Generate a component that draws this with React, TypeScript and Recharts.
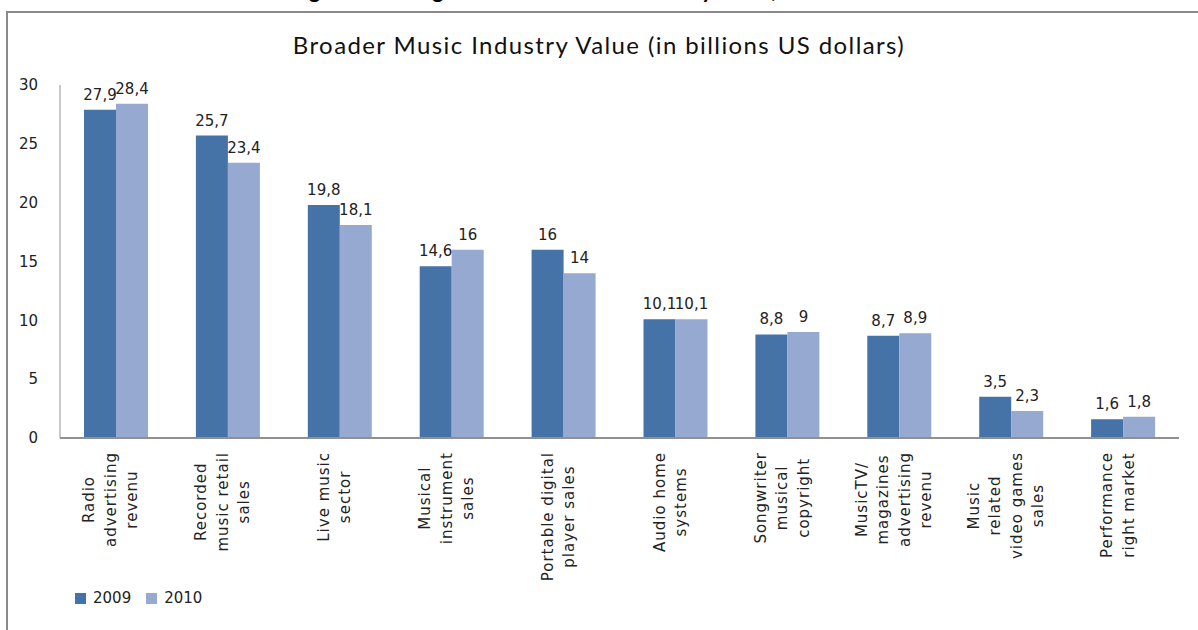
import React from "react";
import { BarChart, Bar, XAxis, YAxis, Legend, LabelList } from "recharts";

const categories = [
  "Radio advertising revenu",
  "Recorded music retail sales",
  "Live music sector",
  "Musical instrument sales",
  "Portable digital player sales",
  "Audio home systems",
  "Songwriter musical copyright",
  "MusicTV/ magazines advertising revenu",
  "Music related video games sales",
  "Performance right market",
];

// how each category label wraps under the axis
const categoryLines = [
  ["Radio", "advertising", "revenu"],
  ["Recorded", "music retail", "sales"],
  ["Live music", "sector"],
  ["Musical", "instrument", "sales"],
  ["Portable digital", "player sales"],
  ["Audio home", "systems"],
  ["Songwriter", "musical", "copyright"],
  ["MusicTV/", "magazines", "advertising", "revenu"],
  ["Music", "related", "video games", "sales"],
  ["Performance", "right market"],
];

const values2009 = [27.9, 25.7, 19.8, 14.6, 16, 10.1, 8.8, 8.7, 3.5, 1.6];
const values2010 = [28.4, 23.4, 18.1, 16, 14, 10.1, 9, 8.9, 2.3, 1.8];
const yTicks = [0, 5, 10, 15, 20, 25, 30];

const data = categories.map((name, i) => ({
  name,
  "2009": values2009[i],
  "2010": values2010[i],
}));

const C2009 = "#4572A7";
const C2010 = "#95A9D1";
const FONT = '"DejaVu Sans", Verdana, sans-serif';

let ctx: CanvasRenderingContext2D | null = null;
const measure = (s: string) => {
  if (!ctx) {
    ctx = document.createElement("canvas").getContext("2d");
  }
  if (!ctx) return s.length * 8;
  ctx.font = `15px ${FONT}`;
  return ctx.measureText(s).width + s.length * 1;
};

const CategoryTick = (props: any) => {
  const { x, y, index } = props;
  const lines = categoryLines[index] || [];
  const longest = Math.max(...lines.map(measure));
  const cy = y + longest / 2;
  const step = 21.5;
  return (
    <g>
      {lines.map((ln, i) => {
        const lx = x - ((lines.length - 1) / 2) * step + i * step;
        return (
          <text
            key={i}
            x={lx}
            y={cy}
            transform={`rotate(-90, ${lx}, ${cy})`}
            textAnchor="middle"
            fontFamily={FONT}
            fontSize={15}
            letterSpacing={1}
            fill="#222"
          >
            {ln}
          </text>
        );
      })}
    </g>
  );
};

const LegendContent = (props: any) => {
  const { payload } = props;
  return (
    <div style={{ display: "flex", fontFamily: FONT, fontSize: 15, color: "#222" }}>
      {(payload || []).map((p: any) => (
        <div key={p.value} style={{ display: "flex", alignItems: "center", marginRight: 15 }}>
          <span style={{ width: 11, height: 11, background: p.color, display: "inline-block", marginRight: 7 }} />
          <span>{p.value}</span>
        </div>
      ))}
    </div>
  );
};

const fmt = (v: any) => String(v).replace(".", ",");

export default function App() {
  return (
    <div
      style={{
        position: "fixed",
        left: 0,
        top: 0,
        width: 1198,
        height: 630,
        overflow: "hidden",
        background: "#fff",
      }}
    >
      <div
        style={{
          position: "absolute",
          left: 0,
          width: 1198,
          top: -24,
          textAlign: "center",
          fontFamily: "Lato, sans-serif",
          fontWeight: 700,
          fontSize: 22,
          whiteSpace: "nowrap",
        }}
      >
        Figure 2: Change in Broader Music Industry Value, 2009 – 2010
      </div>
      <div
        style={{
          position: "absolute",
          left: 6,
          top: 11,
          width: 1250,
          height: 700,
          border: "2px solid #8a8a8a",
          boxSizing: "border-box",
        }}
      />
      <div
        style={{
          position: "absolute",
          left: 0,
          width: 1198,
          top: 30,
          textAlign: "center",
          fontFamily: "Lato, sans-serif",
          fontSize: 24,
          letterSpacing: 1.4,
          color: "#111",
          whiteSpace: "nowrap",
        }}
      >
        Broader Music Industry Value (in billions US dollars)
      </div>
      <div style={{ position: "absolute", left: 0, top: 0 }}>
        <BarChart
          width={1198}
          height={630}
          data={data}
          margin={{ top: 85, right: 19, bottom: 13, left: 0 }}
          barGap={0}
          barSize={32}
        >
          <XAxis
            dataKey="name"
            height={161}
            interval={0}
            tickLine={false}
            tickSize={0}
            tickMargin={14}
            axisLine={{ stroke: "#909090", strokeWidth: 2 }}
            tick={<CategoryTick />}
          />
          <YAxis
            width={60}
            domain={[0, 30]}
            ticks={yTicks}
            interval={0}
            tickLine={false}
            tickSize={0}
            tickMargin={22}
            axisLine={{ stroke: "#909090" }}
            tick={{ fontFamily: FONT, fontSize: 15, fill: "#222" }}
          />
          <Legend
            content={<LegendContent />}
            wrapperStyle={{ position: "absolute", left: 75, top: 589, width: "auto" }}
          />
          <Bar dataKey="2009" fill={C2009} isAnimationActive={false}>
            <LabelList
              dataKey="2009"
              position="top"
              offset={10}
              formatter={fmt}
              style={{ fontFamily: FONT, fontSize: 15, fill: "#222" }}
            />
          </Bar>
          <Bar dataKey="2010" fill={C2010} isAnimationActive={false}>
            <LabelList
              dataKey="2010"
              position="top"
              offset={10}
              formatter={fmt}
              style={{ fontFamily: FONT, fontSize: 15, fill: "#222" }}
            />
          </Bar>
        </BarChart>
      </div>
    </div>
  );
}
